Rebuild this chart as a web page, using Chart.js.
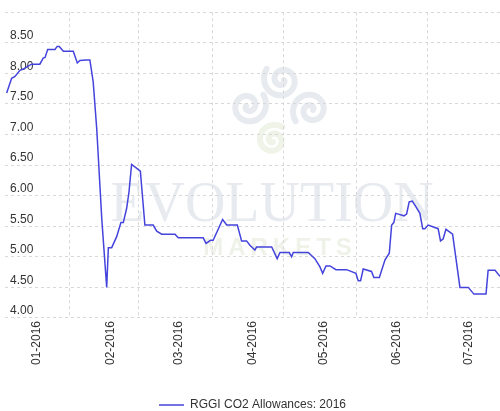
<!DOCTYPE html>
<html lang="en">
<head>
<meta charset="UTF-8">
<title>RGGI CO2 Allowances: 2016</title>
<script src="https://cdn.jsdelivr.net/npm/chart.js"></script>
<style>
    body { margin: 0; background: #fff; }
    #wrap { width: 500px; height: 411px; }
</style>
</head>
<body>
<div id="wrap"><canvas id="chartCanvas" width="500" height="411"></canvas></div>
<script>
// day of year (1 Jan = 0) and settle price
const days = [
    4.3, 6.4, 7.8, 9.9, 11.3, 14.8, 18.3, 19.7, 20.5, 21.6, 24.7, 25.6, 26.5, 28.2, 32.4,
    34.1, 35.2, 37.7, 39.4, 40.8, 42.3, 43.7, 44.4, 46.5, 47.2, 48.6, 50.7, 52.5, 53.5,
    54.9, 55.9, 57.0, 60.7, 62.6, 66.1, 67.6, 69.7, 75.3, 76.7, 87.2, 88.4, 90.3, 91.4,
    95.4, 97.1, 101.6, 103.4, 105.5, 106.9, 109.0, 109.7, 116.1, 118.4, 119.6, 123.5,
    124.5, 125.2, 131.5, 134.3, 136.4, 137.6, 139.0, 140.7, 143.2, 147.7, 151.6, 152.6,
    153.6, 154.7, 158.2, 159.2, 161.5, 163.9, 165.7, 166.7, 167.6, 168.4, 170.2, 171.9,
    173.0, 174.1, 175.4, 176.9, 178.6, 179.8, 180.7, 182.1, 186.3, 187.3, 188.4, 189.6,
    192.4, 193.8, 195.5, 199.0, 201.4, 206.5, 207.4, 210.3, 212.4
];
const prices = [
    7.68, 7.92, 7.95, 8.05, 8.07, 8.15, 8.15, 8.25, 8.26, 8.39, 8.39, 8.44, 8.44, 8.36, 8.36,
    8.17, 8.21, 8.22, 8.22, 7.86, 7.09, 6.12, 5.63, 4.50, 5.15, 5.15, 5.33, 5.56, 5.56,
    5.79, 6.06, 6.51, 6.40, 5.52, 5.52, 5.42, 5.37, 5.37, 5.31, 5.31, 5.22, 5.27, 5.27,
    5.61, 5.52, 5.52, 5.26, 5.26, 5.19, 5.11, 5.16, 5.16, 4.97, 5.07, 5.07,
    5.00, 5.07, 5.07, 4.97, 4.84, 4.73, 4.85, 4.85, 4.79, 4.79, 4.73, 4.61,
    4.61, 4.80, 4.76, 4.66, 4.66, 4.95, 5.06, 5.52, 5.56, 5.71, 5.69, 5.67,
    5.70, 5.90, 5.91, 5.82, 5.71, 5.46, 5.46, 5.52, 5.46, 5.26, 5.29, 5.45,
    5.37, 4.98, 4.50, 4.50, 4.39, 4.39, 4.78, 4.78, 4.68
];

const monthStarts = [0, 31, 60, 91, 121, 152, 182];
const tickLabels = ['01-2016', '02-2016', '03-2016', '04-2016', '05-2016', '06-2016', '07-2016'];
const seriesName = 'RGGI CO2 Allowances: 2016';

const xMin = 3.6, xMax = 212.4;
const labelDays = monthStarts.map(d => d + 17);

Chart.defaults.font.family = "'Liberation Sans', Arial, sans-serif";
Chart.defaults.font.size = 12;
Chart.defaults.color = '#333';

// faint company logo behind the plot
function spiral(ctx, cx, cy, rMax, start, dir) {
    ctx.beginPath();
    for (let t = 0; t <= 1.001; t += 0.02) {
        const a = start + dir * t * Math.PI * 3.2;
        const r = 2 + (rMax - 2) * t;
        const px = cx + Math.cos(a) * r, py = cy + Math.sin(a) * r;
        if (t === 0) ctx.moveTo(px, py); else ctx.lineTo(px, py);
    }
    ctx.stroke();
}

const watermark = {
    id: 'watermark',
    beforeDraw(chart) {
        const ctx = chart.ctx;
        ctx.save();
        ctx.lineWidth = 6;
        ctx.lineCap = 'round';
        ctx.strokeStyle = '#e7ebf0';
        spiral(ctx, 282, 80, 19, 0, 1);
        spiral(ctx, 248, 106, 19, Math.PI, -1);
        spiral(ctx, 311, 110, 19, 0, -1);
        ctx.strokeStyle = '#f0f3e8';
        spiral(ctx, 273, 140, 16, Math.PI / 2, 1);
        ctx.fillStyle = '#e7ebf0';
        ctx.font = "56px 'Liberation Serif', serif";
        ctx.textAlign = 'center';
        ctx.textBaseline = 'alphabetic';
        ctx.fillText('EVOLUTION', 272, 221);
        ctx.fillStyle = '#eff2e8';
        ctx.font = "bold 24px 'Liberation Sans', sans-serif";
        ctx.letterSpacing = '5px';
        ctx.fillText('MARKETS', 280, 255);
        ctx.restore();
    }
};

const ctx = document.getElementById('chartCanvas').getContext('2d');
const chart = new Chart(ctx, {
    type: 'line',
    data: {
        datasets: [{
            label: seriesName,
            data: days.map((d, i) => ({ x: d, y: prices[i] })),
            borderColor: '#4444dd',
            backgroundColor: '#4444dd',
            borderWidth: 1.5,
            pointRadius: 0,
            tension: 0,
            fill: false
        }]
    },
    options: {
        responsive: false,
        animation: false,
        layout: { padding: { left: 5, right: 0, top: 9, bottom: -10 } },
        scales: {
            x: {
                type: 'linear',
                min: xMin,
                max: xMax,
                afterBuildTicks: scale => {
                    const vals = monthStarts.filter(d => d > xMin).concat(labelDays).sort((a, b) => a - b);
                    scale.ticks = vals.map(v => ({ value: v }));
                },
                afterFit: scale => { scale.height += 29; },
                grid: {
                    drawTicks: false,
                    color: c => (c.tick && monthStarts.includes(c.tick.value)) ? '#d8d8d8' : 'rgba(0,0,0,0)'
                },
                border: { display: false, dash: [3, 3] },
                ticks: {
                    autoSkip: false,
                    minRotation: 90,
                    maxRotation: 90,
                    padding: 3,
                    color: '#333',
                    callback: v => {
                        const i = labelDays.indexOf(v);
                        return i >= 0 ? tickLabels[i] : '';
                    }
                }
            },
            y: {
                min: 4,
                max: 9,
                afterFit: scale => { scale.width = 0; },
                grid: { drawTicks: false, color: '#d8d8d8' },
                border: { display: false, dash: [3, 3] },
                ticks: {
                    stepSize: 0.5,
                    mirror: true,
                    padding: 5,
                    labelOffset: -7,
                    color: '#333',
                    callback: v => v >= 9 ? '' : v.toFixed(2)
                }
            }
        },
        plugins: {
            legend: {
                position: 'bottom',
                labels: {
                    usePointStyle: true,
                    pointStyle: 'line',
                    pointStyleWidth: 25,
                    padding: 2,
                    color: '#333'
                }
            },
            tooltip: { enabled: false }
        }
    },
    plugins: [watermark]
});
</script>
</body>
</html>
